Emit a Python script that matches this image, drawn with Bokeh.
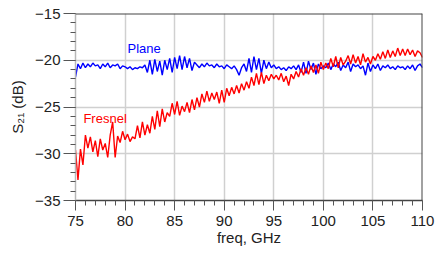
import numpy as np
from bokeh.plotting import figure
from bokeh.models import SingleIntervalTicker, Span, Label, Range1d
from bokeh.embed import file_html
from bokeh.resources import INLINE

# frequency sweep (GHz): 75 to 110 in 0.25 GHz steps
F_START, F_STOP, F_STEP = 75.0, 110.0, 0.25
freq = np.round(np.arange(F_START, F_STOP + F_STEP / 2, F_STEP), 3)

plane = [
    -21.8, -20.4, -20.9, -20.3, -20.8, -20.4, -20.7, -20.3, -20.6, -20.5, -20.9, -20.4, -20.7, -20.3, -20.8, -20.5, -20.6, -20.4, -20.9, -20.6, -20.7,
    -20.9, -20.7, -21.0, -20.8, -20.9, -20.7, -20.8, -20.5,
    -21.3, -20.0, -21.5, -19.9, -21.2, -20.1, -21.6, -20.0, -21.0, -19.8, -21.3, -19.7, -20.9, -19.5, -21.0, -19.6, -20.8, -19.8, -21.1, -20.2,
    -20.5, -20.8, -20.4, -20.7, -20.3, -20.6, -20.5, -20.8, -20.4, -20.7, -20.6, -20.9, -20.5, -20.7, -20.9, -20.6, -21.0, -21.6, -20.8, -20.4,
    -21.2, -19.8, -21.3, -19.6, -21.0, -19.8, -21.4, -20.0, -20.9, -20.2, -20.8, -20.5,
    -20.9, -20.7, -21.0, -20.8, -21.1, -20.7, -20.9, -20.6, -21.0, -20.5, -21.3, -20.2, -21.4, -20.1, -21.0, -20.3, -21.5, -20.4, -20.9, -20.6,
    -20.8, -20.3, -21.0, -20.4, -20.7, -20.2, -21.1, -20.5, -20.8, -20.2, -21.2, -20.4, -20.7, -20.5, -20.9, -20.6, -21.6, -20.3, -21.2, -20.5,
    -20.9, -20.4, -21.1, -20.6, -20.8, -20.5, -20.9, -20.7, -21.0, -20.6, -20.8, -20.7, -21.0, -20.6, -20.9, -20.5, -21.1, -20.6, -20.4, -20.8,
]

fresnel = [
    -29.6, -32.8, -29.5, -31.2, -28.0,
    -29.4, -28.2, -29.8, -28.6, -30.3, -28.4, -29.6, -28.9, -30.4,
    -28.0, -26.6, -30.4,
    -28.1, -28.8, -27.6, -28.5, -27.9, -28.7, -28.2, -28.4,
    -27.0, -28.3, -26.6, -28.0, -26.9, -27.8,
    -26.0, -27.4, -25.4, -27.1, -25.2, -26.6, -25.6,
    -26.0, -24.6, -25.8, -24.4, -25.9, -24.9, -25.5, -24.5,
    -25.6, -24.2, -25.3, -24.0, -25.0,
    -23.6, -24.5, -23.3, -24.4, -23.5, -24.2, -23.4, -24.6,
    -23.2, -24.5, -23.0, -23.8, -22.9, -23.6, -22.7, -23.5, -22.5, -23.2,
    -22.3, -23.0, -21.8, -22.7, -21.4, -22.6, -21.3, -22.5, -21.6, -22.2, -21.5, -22.0,
    -21.6, -22.1, -21.4, -22.3, -21.7, -22.7, -21.5, -22.0,
    -21.2, -21.8, -20.9, -21.6, -20.8, -21.5, -20.6, -21.3, -20.5, -21.4, -20.2, -21.0,
    -20.3, -20.9, -19.8, -20.7, -19.6, -20.8, -19.7, -20.5,
    -20.1, -19.5, -20.4, -19.4, -20.3, -19.6, -20.5, -19.3, -20.2, -19.7, -20.4, -19.6,
    -20.0, -19.3, -19.9, -19.1, -19.8, -18.9, -19.7, -19.0, -19.6, -18.7, -19.5, -18.8,
    -19.5, -18.8, -19.4, -18.9, -19.6, -19.0, -19.2, -19.7,
]

X_RANGE = (75, 110)
Y_RANGE = (-35, -15)
TICK_STEP = 5

FONT = "Liberation Sans"
TXT = "#222222"

p = figure(width=440, height=253, output_backend="svg", toolbar_location=None,
           x_range=Range1d(*X_RANGE), y_range=Range1d(*Y_RANGE),
           min_border_left=75, min_border_right=18, min_border_top=13, min_border_bottom=53)
p.outline_line_color = None
p.background_fill_color = "white"
p.border_fill_color = "white"

p.line(freq, plane, line_color="#0000ff", line_width=1.4)
p.line(freq, fresnel, line_color="#ff0000", line_width=1.4)

for ax in (p.xaxis, p.yaxis):
    ax.ticker = SingleIntervalTicker(interval=TICK_STEP, num_minor_ticks=5)
    ax.major_label_text_font = FONT
    ax.major_label_text_font_size = "15px"
    ax.major_label_text_color = TXT
    ax.axis_label_text_font = FONT
    ax.axis_label_text_font_size = "15px"
    ax.axis_label_text_font_style = "normal"
    ax.axis_label_text_color = TXT
    ax.major_tick_in = 0
    ax.minor_tick_in = 0
    ax.major_tick_line_color = "#555555"
    ax.minor_tick_line_color = "#555555"

p.xaxis.axis_label = "freq, GHz"
p.xaxis.major_tick_out = 10
p.xaxis.minor_tick_out = 5
p.xaxis.major_label_standoff = 5
p.xaxis.axis_label_standoff = 0
p.xaxis.axis_line_color = "#444444"
p.xaxis.axis_line_width = 1.5

p.yaxis.axis_label = "S\u2082\u2081 (dB)"
p.yaxis.major_tick_out = 12
p.yaxis.minor_tick_out = 5
p.yaxis.major_label_standoff = 3
p.yaxis.axis_label_standoff = 6
p.yaxis.axis_line_color = "#b8b8b8"
p.yaxis.axis_line_width = 1.5

p.xgrid.grid_line_color = "#d0d0d0"
p.ygrid.grid_line_color = "#d0d0d0"
p.xgrid.grid_line_width = 1.5
p.ygrid.grid_line_width = 1.5

p.add_layout(Span(location=Y_RANGE[1], dimension="width", line_color="#444444", line_width=2))
p.add_layout(Span(location=X_RANGE[1], dimension="height", line_color="#444444", line_width=2))

p.add_layout(Label(x=80.25, y=-18.7, text="Plane", text_color="#0000ff",
                   text_font=FONT, text_font_size="13px", text_baseline="alphabetic"))
p.add_layout(Label(x=75.8, y=-26.2, text="Fresnel", text_color="#ff0000",
                   text_font=FONT, text_font_size="13px", text_baseline="alphabetic"))

open("out.html", "w").write(file_html(p, INLINE))
